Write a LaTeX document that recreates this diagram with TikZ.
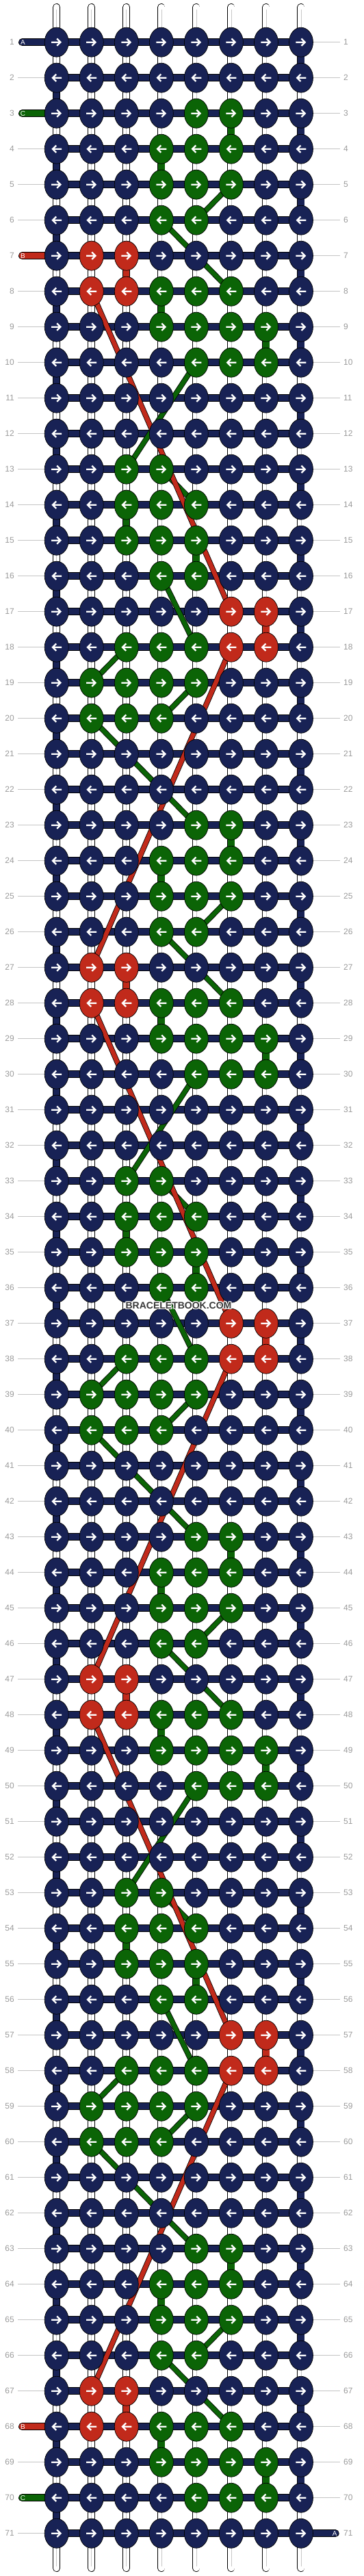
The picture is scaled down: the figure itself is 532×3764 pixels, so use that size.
\documentclass[tikz,border=0pt]{standalone}
\usepackage{fontspec}
\setmainfont{Liberation Sans}
\usetikzlibrary{shapes.geometric}
\definecolor{navy}{HTML}{182255}
\definecolor{leaf}{HTML}{0B6406}
\definecolor{rust}{HTML}{C12A1B}
\definecolor{numgray}{HTML}{9A9A9A}
\definecolor{guidegray}{HTML}{C4C4C4}
\newcommand\setrowcols[1]{\ifcase#1
 \def\rowcols{N,N,N,N,G,G,N,N}\or
 \def\rowcols{N,N,N,G,G,G,N,N}\or
 \def\rowcols{N,N,N,G,G,G,N,N}\or
 \def\rowcols{N,N,N,G,G,N,N,N}\or
 \def\rowcols{N,R,R,N,N,N,N,N}\or
 \def\rowcols{N,R,R,G,G,G,N,N}\or
 \def\rowcols{N,N,N,G,G,G,G,N}\or
 \def\rowcols{N,N,N,N,G,G,G,N}\or
 \def\rowcols{N,N,N,N,N,N,N,N}\or
 \def\rowcols{N,N,N,N,N,N,N,N}\or
 \def\rowcols{N,N,G,G,N,N,N,N}\or
 \def\rowcols{N,N,G,G,G,N,N,N}\or
 \def\rowcols{N,N,G,G,G,N,N,N}\or
 \def\rowcols{N,N,N,G,G,N,N,N}\or
 \def\rowcols{N,N,N,N,N,R,R,N}\or
 \def\rowcols{N,N,G,G,G,R,R,N}\or
 \def\rowcols{N,G,G,G,G,N,N,N}\or
 \def\rowcols{N,G,G,G,N,N,N,N}\or
 \def\rowcols{N,N,N,N,N,N,N,N}\or
 \def\rowcols{N,N,N,N,N,N,N,N}\fi}

\begin{document}
\begin{tikzpicture}[x=1pt,y=-1pt,
  warp/.style={draw=black, line width=0.8pt, double=white, double distance=9.4pt, line cap=round},
  warpcore/.style={draw=black!22, line width=0.6pt},
  strand/.style={draw=black, line width=0.8pt, double=#1, double distance=9.4pt},
  thread/.style={draw=black, line width=0.8pt, double=#1, double distance=6.4pt},
  stub/.style={strand=#1, line cap=round},
  knot/.style={ellipse, draw=black, line width=0.7pt, minimum width=35pt, minimum height=43pt, inner sep=0pt},
  knotN/.style={knot, fill=navy},
  knotG/.style={knot, fill=leaf},
  knotR/.style={knot, fill=rust},
  tag/.style={text=white, font=\fontsize{10}{10}\selectfont, inner sep=0pt},
  num/.style={text=numgray, font=\fontsize{12}{12}\selectfont, inner sep=0pt},
  guide/.style={draw=guidegray, line width=1pt},
  wmark/.style={font=\fontsize{14}{14}\selectfont\bfseries, inner sep=0pt},
  rarr/.pic={\draw[white, line width=2.3pt, line join=miter] (-7.5,0) -- (5.5,0) (0.5,-5.2) -- (5.7,0) -- (0.5,5.2);},
  larr/.pic={\draw[white, line width=2.3pt, line join=miter] (7.5,0) -- (-5.5,0) (-0.5,-5.2) -- (-5.7,0) -- (-0.5,5.2);}]
\useasboundingbox (0,0) rectangle (532,3764);

\foreach \r in {1,...,71}
  \foreach \c in {1,...,8}
    \coordinate (k\r-\c) at ({82.7+(\c-1)*51.04},{61.7+(\r-1)*52});

\foreach \c in {1,...,8}{
  \coordinate (t\c) at ([yshift=51.2pt]k1-\c);
  \coordinate (b\c) at ([yshift=-50.8pt]k71-\c);
  \draw[warp] (t\c) -- (b\c);
  \draw[warpcore] ([yshift=-3pt]t\c) -- ([yshift=3pt]b\c);
}

\foreach \r in {1,...,71}{
  \node[num, anchor=east] (ln\r) at ([xshift=-61.7pt]k\r-1) {\r};
  \node[num, anchor=west] (rn\r) at ([xshift=62pt]k\r-8) {\r};
  \pgfmathtruncatemacro\hasstub{(\r==1)||(\r==3)||(\r==7)||(\r==68)||(\r==70)}
  \ifnum\hasstub=0 \draw[guide] ([xshift=5pt]ln\r.east) -- (k\r-1); \fi
  \ifnum\r<71 \draw[guide] (k\r-8) -- ([xshift=-5pt]rn\r.west); \fi
}

\foreach \r in {1,...,71}
  \draw[strand=navy] (k\r-1) -- (k\r-8);
\foreach \r in {1,...,70}{
  \pgfmathtruncatemacro\s{\r+1}
  \ifodd\r \draw[strand=navy] (k\r-8) -- (k\s-8); \else \draw[strand=navy] (k\r-1) -- (k\s-1); \fi
}

\coordinate (sA) at ([xshift=-50.2pt]k1-1);
\coordinate (sC) at ([xshift=-50.2pt]k3-1);
\coordinate (sB) at ([xshift=-50.2pt]k7-1);
\coordinate (eB) at ([xshift=-50.2pt]k68-1);
\coordinate (eC) at ([xshift=-50.2pt]k70-1);
\coordinate (eA) at ([xshift=50.2pt]k71-8);
\draw[stub=navy] (sA) -- (k1-1);
\draw[stub=leaf] (sC) -- (k3-1);
\draw[stub=rust] (sB) -- (k7-1);
\draw[stub=rust] (eB) -- (k68-1);
\draw[stub=leaf] (eC) -- (k70-1);
\draw[stub=navy] (k71-8) -- (eA);

\foreach \p in {0,20,40,60}{
  \foreach \a/\i/\b/\j in {3/6/4/6, 4/4/5/4, 8/4/9/4, 9/7/10/7, 14/3/15/3, 15/5/16/5}{
    \pgfmathtruncatemacro\ra{\a+\p}
    \pgfmathtruncatemacro\rb{\b+\p}
    \ifnum\rb<72 \draw[strand=leaf] (k\ra-\i) -- (k\rb-\j); \fi
  }
  \foreach \a/\i/\b/\j in {5/6/6/5, 6/4/8/6, 10/5/13/3, 13/4/14/5, 16/4/18/5, 18/3/19/2, 19/5/20/4, 20/2/23/5}{
    \pgfmathtruncatemacro\ra{\a+\p}
    \pgfmathtruncatemacro\rb{\b+\p}
    \ifnum\rb<72 \draw[thread=leaf] (k\ra-\i) -- (k\rb-\j); \fi
  }
}
\foreach \p in {0,20,40,60}{
  \foreach \a/\i/\b/\j in {7/3/8/3, 17/7/18/7}{
    \pgfmathtruncatemacro\ra{\a+\p}
    \pgfmathtruncatemacro\rb{\b+\p}
    \ifnum\rb<72 \draw[strand=rust] (k\ra-\i) -- (k\rb-\j); \fi
  }
  \foreach \a/\i/\b/\j in {8/2/17/6, 18/6/27/2}{
    \pgfmathtruncatemacro\ra{\a+\p}
    \pgfmathtruncatemacro\rb{\b+\p}
    \ifnum\rb<72 \draw[thread=rust] (k\ra-\i) -- (k\rb-\j); \fi
  }
}

\foreach \r in {1,...,71}{
  \pgfmathtruncatemacro\q{mod(\r+17,20)}
  \setrowcols{\q}
  \foreach \cl [count=\c] in \rowcols {
    \node[knot\cl] (n\r-\c) at (k\r-\c) {};
    \ifodd\r \pic at (k\r-\c) {rarr}; \else \pic at (k\r-\c) {larr}; \fi
  }
}

\node[tag] (tA) at ([xshift=1pt]sA) {A};
\node[tag] (tC) at ([xshift=1pt]sC) {C};
\node[tag] (tB) at ([xshift=1pt]sB) {B};
\node[tag] (uB) at ([xshift=1pt]eB) {B};
\node[tag] (uC) at ([xshift=1pt]eC) {C};
\node[tag] (uA) at ([xshift=-1pt]eA) {A};

\coordinate (wm) at (261,1907.5);
\foreach \dx/\dy [count=\h] in {1.2/0,-1.2/0,0/1.2,0/-1.2,0.9/0.9,-0.9/0.9,0.9/-0.9,-0.9/-0.9}
  \node[wmark, text=white] (wh\h) at ([shift={(\dx,\dy)}]wm) {BRACELETBOOK.COM};
\node[wmark, text=black!78] (wt) at (wm) {BRACELETBOOK.COM};
\end{tikzpicture}
\end{document}
